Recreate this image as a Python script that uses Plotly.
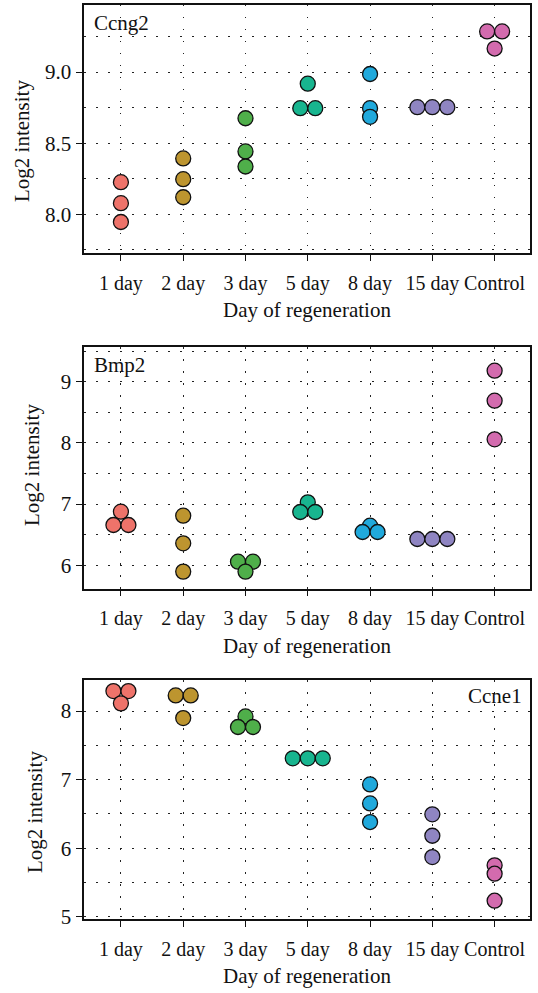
import plotly.graph_objects as go

W, H = 538, 993

categories = ["1 day", "2 day", "3 day", "5 day", "8 day", "15 day", "Control"]
colors = ["#EE736A", "#BD952F", "#4FAF4A", "#18B58F", "#20A9DC", "#8F85C2", "#D36BAE"]

# Ccng2 (three replicates per day)
ccng2 = [
    [8.226, 8.078, 7.946],
    [8.393, 8.247, 8.120],
    [8.675, 8.442, 8.336],
    [8.918, 8.746, 8.746],
    [8.986, 8.746, 8.685],
    [8.753, 8.753, 8.753],
    [9.285, 9.285, 9.165],
]
# Bmp2
bmp2 = [
    [6.877, 6.659, 6.659],
    [6.811, 6.359, 5.897],
    [6.060, 6.060, 5.897],
    [7.029, 6.871, 6.871],
    [6.648, 6.544, 6.544],
    [6.430, 6.430, 6.430],
    [9.180, 8.690, 8.058],
]
# Ccne1
ccne1 = [
    [8.292, 8.292, 8.112],
    [8.228, 8.228, 7.898],
    [7.922, 7.767, 7.767],
    [7.310, 7.310, 7.310],
    [6.930, 6.653, 6.381],
    [6.493, 6.181, 5.870],
    [5.749, 5.627, 5.233],
]

panels = [
    dict(name="Ccng2", data=ccng2, yrange=[7.726, 9.473], dtick=0.5, tick0=8.0, minor=0.25,
         fmt=".1f", top=4.7, bottom=253.3, label_pos="left"),
    dict(name="Bmp2", data=bmp2, yrange=[5.618, 9.562], dtick=1, tick0=6, minor=0.5,
         fmt="d", top=347.3, bottom=588.7, label_pos="left"),
    dict(name="Ccne1", data=ccne1, yrange=[4.962, 8.453], dtick=1, tick0=5, minor=0.5,
         fmt="d", top=680.0, bottom=919.3, label_pos="right"),
]
ytitle_pos = [(22, 141), (32, 465), (35, 812)]

FONT = "Liberation Serif, Times New Roman, serif"
TXT = "#111111"
FS = 21
TFS = 20
X_LEFT, X_RIGHT = 84.3, 530.0
XRANGE = [-0.588, 6.568]
CAT_PX = (X_RIGHT - X_LEFT) / (XRANGE[1] - XRANGE[0])
DOT_PX = 15.0
DODGE = DOT_PX / CAT_PX
GRID_DASH = "1.6px,10.4px"
GRID_COL = "#222222"

fig = go.Figure()
layout = dict(
    width=W, height=H,
    margin=dict(l=0, r=0, t=0, b=0),
    paper_bgcolor="white", plot_bgcolor="white",
    showlegend=False,
    font=dict(family=FONT, size=FS, color=TXT),
    annotations=[],
)

for p_i, p in enumerate(panels):
    sfx = "" if p_i == 0 else str(p_i + 1)
    xs, ys, cs = [], [], []
    for c_i, vals in enumerate(p["data"]):
        # dodge equal values side by side (dot-plot style)
        groups = {}
        for v in vals:
            groups.setdefault(round(v, 3), []).append(v)
        for key, g in groups.items():
            n = len(g)
            for k, v in enumerate(g):
                xs.append(c_i + (k - (n - 1) / 2) * DODGE)
                ys.append(v)
                cs.append(colors[c_i])
    fig.add_trace(go.Scatter(
        x=xs, y=ys, mode="markers",
        marker=dict(size=15, color=cs, line=dict(color="#111111", width=1.3)),
        xaxis="x" + sfx, yaxis="y" + sfx, hoverinfo="skip",
    ))
    ydom = [1 - p["bottom"] / H, 1 - p["top"] / H]
    layout["xaxis" + sfx] = dict(
        domain=[X_LEFT / W, X_RIGHT / W], range=XRANGE, anchor="y" + sfx,
        tickmode="array", tickvals=list(range(len(categories))), ticktext=categories,
        tickangle=0,
        ticks="outside", ticklen=6, tickwidth=1.2, tickcolor="#111",
        showline=True, linecolor="#111", linewidth=1.5, mirror=True,
        showgrid=True, gridcolor=GRID_COL, griddash=GRID_DASH, gridwidth=1,
        zeroline=False, ticklabelstandoff=5,
        tickfont=dict(family=FONT, size=TFS, color=TXT),
        automargin=False, fixedrange=True,
    )
    layout["yaxis" + sfx] = dict(
        domain=ydom, range=p["yrange"], anchor="x" + sfx,
        tickmode="linear", tick0=p["tick0"], dtick=p["dtick"], tickformat=p["fmt"],
        ticks="outside", ticklen=7, tickwidth=1.2, tickcolor="#111",
        showline=True, linecolor="#111", linewidth=1.5, mirror=True,
        showgrid=True, gridcolor=GRID_COL, griddash=GRID_DASH, gridwidth=1,
        minor=dict(dtick=p["minor"], tick0=p["tick0"], showgrid=True, gridcolor=GRID_COL,
                   griddash=GRID_DASH, gridwidth=1, ticks=""),
        zeroline=False,
        tickfont=dict(family=FONT, size=FS, color=TXT),
        automargin=False, fixedrange=True,
    )
    # x-axis title
    layout["annotations"].append(dict(
        text="Day of regeneration", x=307 / W, y=1 - (p["bottom"] + 57) / H,
        xref="paper", yref="paper", showarrow=False, xanchor="center", yanchor="middle",
        font=dict(family=FONT, size=FS, color=TXT),
    ))
    # y-axis title
    tx, ty = ytitle_pos[p_i]
    layout["annotations"].append(dict(
        text="Log2 intensity", x=tx / W, y=1 - ty / H, textangle=-90,
        xref="paper", yref="paper", showarrow=False, xanchor="center", yanchor="middle",
        font=dict(family=FONT, size=FS, color=TXT),
    ))
    # gene label
    if p["label_pos"] == "left":
        layout["annotations"].append(dict(
            text=p["name"], x=92 / W, y=1 - (p["top"] + 18) / H,
            xref="paper", yref="paper", showarrow=False, xanchor="left", yanchor="middle",
            font=dict(family=FONT, size=FS, color=TXT),
        ))
    else:
        layout["annotations"].append(dict(
            text=p["name"], x=524 / W, y=1 - (p["top"] + 16) / H,
            xref="paper", yref="paper", showarrow=False, xanchor="right", yanchor="middle",
            font=dict(family=FONT, size=FS, color=TXT),
        ))

fig.update_layout(**layout)
fig.write_html("out.html")
